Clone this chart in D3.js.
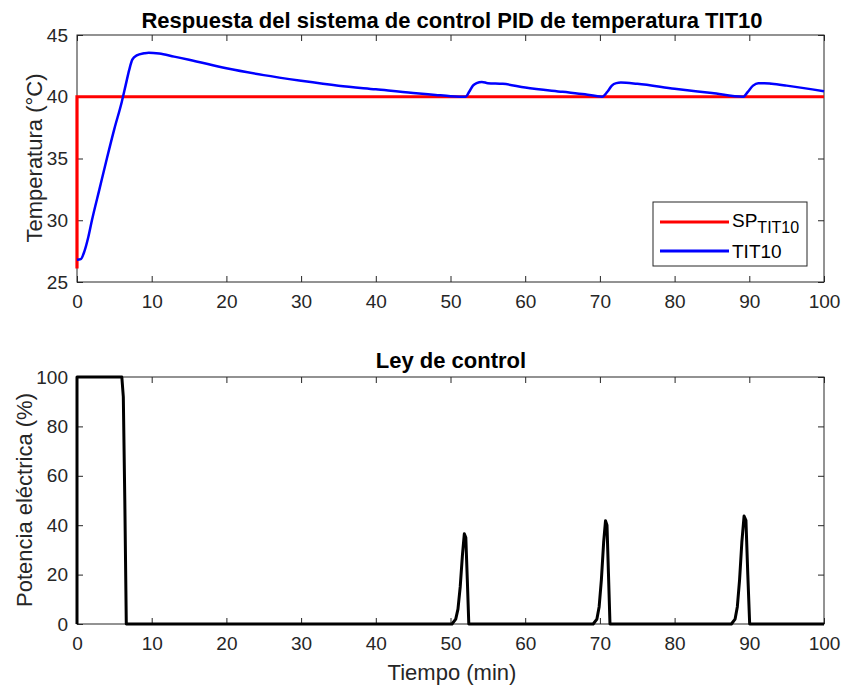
<!DOCTYPE html>
<html>
<head>
<meta charset="utf-8">
<script src="https://cdn.jsdelivr.net/npm/d3@7"></script>
<style>
  body { margin: 0; background: #fff; }
  svg { display: block; font-family: "Liberation Sans", Arial, sans-serif; }
</style>
</head>
<body>
<svg id="chart" width="844" height="688"></svg>
<script>
// setpoint (t, °C)
var spTime = [0, 0, 100];
var spValue = [26.1, 40, 40];

// measured temperature TIT10 (t, °C)
var tempTime = [0, 0.5, 1, 1.5, 2, 3, 4, 5, 6, 6.5, 7, 7.4, 8, 9, 9.6, 11, 13, 15, 20, 25, 30, 35, 40, 45, 48, 50, 52,
  52.5, 53, 53.5, 54.2, 55, 57, 60, 65, 68, 70.3, 71, 71.6, 72.2, 72.8, 75, 80, 85, 89.2, 89.8, 90.5, 91.2, 92, 93, 95, 100];
var tempValue = [26.8, 26.85, 27.5, 28.6, 30.0, 32.5, 35.0, 37.4, 39.6, 40.9, 42.2, 43.0, 43.35, 43.52, 43.57, 43.5, 43.25, 43.0, 42.3, 41.75, 41.3, 40.9, 40.6, 40.3, 40.15, 40.05, 40.0,
  40.4, 40.9, 41.1, 41.2, 41.1, 41.05, 40.75, 40.4, 40.2, 40.0, 40.4, 40.9, 41.1, 41.15, 41.05, 40.65, 40.3, 40.0, 40.4, 40.9, 41.1, 41.1, 41.05, 40.9, 40.45];

// control law (t, %)
var ctrlTime = [0, 0, 6.0, 6.2, 6.4, 6.6, 50.2, 50.7, 51.0, 51.3, 51.6, 51.85, 52.05, 52.25, 52.45,
  69.1, 69.6, 69.9, 70.2, 70.5, 70.75, 70.95, 71.15, 71.35,
  87.6, 88.1, 88.4, 88.7, 89.0, 89.3, 89.55, 89.8, 90.05, 100];
var ctrlValue = [0, 100, 100, 92, 50, 0, 0, 2, 6, 15, 28, 36.5, 35, 18, 0,
  0, 2, 7, 18, 33, 41.8, 40, 20, 0,
  0, 2, 7, 18, 33, 43.7, 42, 20, 0, 0];

var xTicks = [0, 10, 20, 30, 40, 50, 60, 70, 80, 90, 100];
var topYTicks = [25, 30, 35, 40, 45];
var botYTicks = [0, 20, 40, 60, 80, 100];

var axisColor = "#262626";
var svg = d3.select("#chart");

var x = d3.scaleLinear().domain([0, 100]).range([77, 824]);
var yTop = d3.scaleLinear().domain([25, 45]).range([282, 35]);
var yBot = d3.scaleLinear().domain([0, 100]).range([624, 377]);

function zip(ts, vs) {
  return ts.map(function(t, i) { return {t: t, v: vs[i]}; });
}

function drawFrame(y, yTicks, top, bottom) {
  var g = svg.append("g");
  // bottom axis, ticks pointing inward
  g.append("g")
      .attr("transform", "translate(0," + bottom + ")")
      .call(d3.axisBottom(x).tickValues(xTicks).tickSizeInner(-6).tickSizeOuter(0).tickPadding(13))
      .call(function(a) {
        a.select(".domain").remove();
        a.selectAll("line").attr("stroke", axisColor);
        a.selectAll("text").attr("fill", axisColor).style("font-size", "19px");
      });
  // top ticks
  g.append("g")
      .attr("transform", "translate(0," + top + ")")
      .call(d3.axisTop(x).tickValues(xTicks).tickSizeInner(-6).tickSizeOuter(0).tickFormat(""))
      .call(function(a) {
        a.select(".domain").remove();
        a.selectAll("line").attr("stroke", axisColor);
      });
  g.append("g")
      .attr("transform", "translate(" + x(0) + ",0)")
      .call(d3.axisLeft(y).tickValues(yTicks).tickSizeInner(-6).tickSizeOuter(0).tickPadding(9))
      .call(function(a) {
        a.select(".domain").remove();
        a.selectAll("line").attr("stroke", axisColor);
        a.selectAll("text").attr("fill", axisColor).style("font-size", "19px");
      });
  g.append("g")
      .attr("transform", "translate(" + x(100) + ",0)")
      .call(d3.axisRight(y).tickValues(yTicks).tickSizeInner(-6).tickSizeOuter(0).tickFormat(""))
      .call(function(a) {
        a.select(".domain").remove();
        a.selectAll("line").attr("stroke", axisColor);
      });
  g.append("rect")
      .attr("x", x(0)).attr("y", top)
      .attr("width", x(100) - x(0)).attr("height", bottom - top)
      .attr("fill", "none").attr("stroke", axisColor).attr("stroke-width", 1);
}

drawFrame(yTop, topYTicks, 35, 282);
drawFrame(yBot, botYTicks, 377, 624);

var lineTop = d3.line().x(function(d) { return x(d.t); }).y(function(d) { return yTop(d.v); }).curve(d3.curveMonotoneX);
var lineTopLin = d3.line().x(function(d) { return x(d.t); }).y(function(d) { return yTop(d.v); });
var lineBot = d3.line().x(function(d) { return x(d.t); }).y(function(d) { return yBot(d.v); });

svg.append("path")
    .datum(zip(spTime, spValue))
    .attr("fill", "none")
    .attr("stroke", "#ff0000")
    .attr("stroke-width", 3.2)
    .attr("d", lineTopLin);

svg.append("path")
    .datum(zip(tempTime, tempValue))
    .attr("fill", "none")
    .attr("stroke", "#0000ff")
    .attr("stroke-width", 2.5)
    .attr("stroke-linejoin", "round")
    .attr("d", lineTop);

svg.append("path")
    .datum(zip(ctrlTime, ctrlValue))
    .attr("fill", "none")
    .attr("stroke", "#000")
    .attr("stroke-width", 3)
    .attr("stroke-linejoin", "round")
    .attr("d", lineBot);

// legend
var leg = svg.append("g");
leg.append("rect").attr("x", 653).attr("y", 202).attr("width", 154).attr("height", 64)
    .attr("fill", "#fff").attr("stroke", axisColor).attr("stroke-width", 1);
leg.append("line").attr("x1", 660).attr("x2", 729).attr("y1", 222).attr("y2", 222)
    .attr("stroke", "#ff0000").attr("stroke-width", 3);
leg.append("line").attr("x1", 660).attr("x2", 729).attr("y1", 251).attr("y2", 251)
    .attr("stroke", "#0000ff").attr("stroke-width", 3);
var sp = leg.append("text").attr("x", 732).attr("y", 227).attr("fill", "#000").style("font-size", "19px");
sp.append("tspan").text("SP");
sp.append("tspan").attr("dy", 6).style("font-size", "16px").text("TIT10");
leg.append("text").attr("x", 732).attr("y", 258).attr("fill", "#000").style("font-size", "19px").text("TIT10");

// titles and labels
svg.append("text").attr("x", 452).attr("y", 28).attr("text-anchor", "middle")
    .style("font-size", "22px").style("font-weight", "bold").attr("fill", "#000")
    .text("Respuesta del sistema de control PID de temperatura TIT10");
svg.append("text").attr("x", 451).attr("y", 368).attr("text-anchor", "middle")
    .style("font-size", "22px").style("font-weight", "bold").attr("fill", "#000")
    .text("Ley de control");
svg.append("text").attr("x", 452).attr("y", 680).attr("text-anchor", "middle")
    .style("font-size", "22px").attr("fill", axisColor)
    .text("Tiempo (min)");
svg.append("text").attr("transform", "translate(42,158) rotate(-90)").attr("text-anchor", "middle")
    .style("font-size", "22px").attr("fill", axisColor)
    .text("Temperatura (°C)");
svg.append("text").attr("transform", "translate(32,500) rotate(-90)").attr("text-anchor", "middle")
    .style("font-size", "22px").attr("fill", axisColor)
    .text("Potencia eléctrica (%)");
</script>
</body>
</html>
